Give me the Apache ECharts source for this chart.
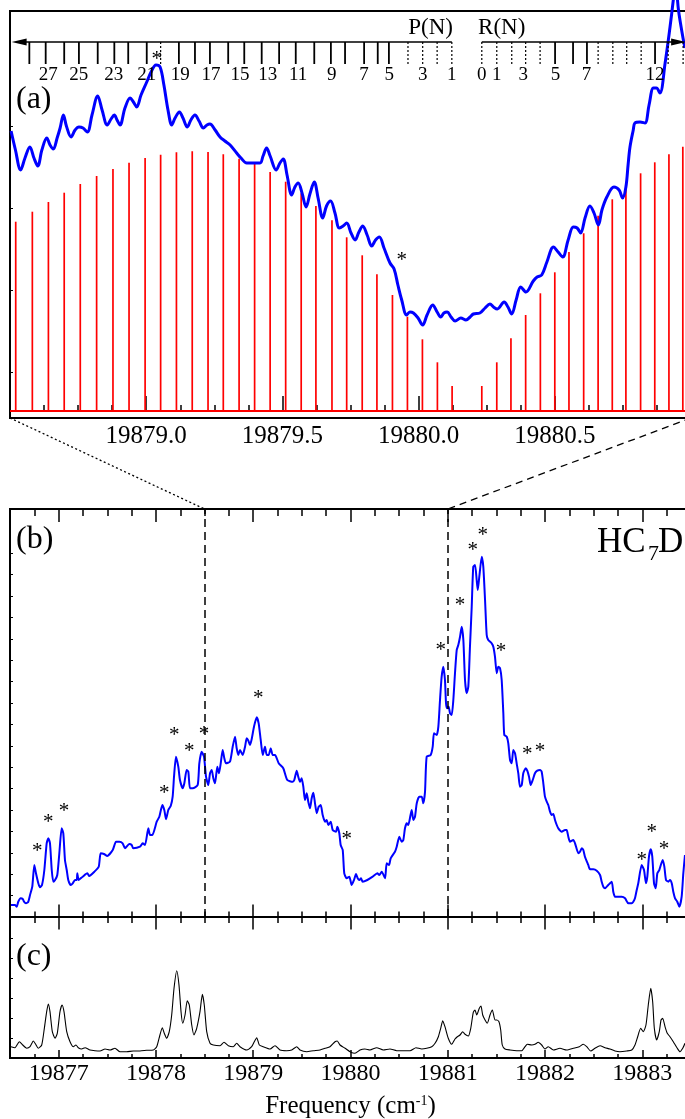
<!DOCTYPE html>
<html><head><meta charset="utf-8">
<script src="https://cdn.jsdelivr.net/npm/echarts@6/dist/echarts.min.js"></script>
<style>html,body{margin:0;padding:0;background:#fff}#c{width:685px;height:1119px}</style>
</head><body><div id="c"></div>
<script>
// ---------------- DATA ----------------
const A_X_RANGE = [19878.5, 19881.0];          // panel (a) frequency window (cm-1)
const BC_X_RANGE = [19876.5, 19883.5];         // panels (b),(c)
const ZOOM_RANGE = [19878.5, 19881.0];         // region expanded in (a)
const BC_TICKS = [19877, 19878, 19879, 19880, 19881, 19882, 19883];
const A_Y_TICKS = [0.39, 1.21, 2.03, 2.85];
const B_Y_TICKS = [1, 2, 3, 4, 5, 6, 7, 8, 9, 10, 11, 12, 13, 14, 15, 16, 17];
const C_Y_TICKS = [1, 2, 3, 4, 5, 6];

// simulated stick spectrum, (a): P branch and R branch [freq, intensity]
const stickP = [[19878.521,1.893],[19878.582,1.993],[19878.641,2.090],[19878.699,2.183],[19878.758,2.270],[19878.818,2.350],[19878.878,2.420],[19878.937,2.483],[19878.996,2.530],[19879.053,2.563],[19879.111,2.587],[19879.169,2.597],[19879.227,2.590],[19879.283,2.567],[19879.341,2.523],[19879.398,2.473],[19879.455,2.390],[19879.512,2.293],[19879.569,2.177],[19879.623,2.050],[19879.682,1.907],[19879.736,1.737],[19879.793,1.557],[19879.847,1.367],[19879.904,1.160],[19879.959,0.943],[19880.014,0.717],[19880.069,0.487],[19880.123,0.250]];
const stickR = [[19880.232,0.250],[19880.287,0.487],[19880.339,0.727],[19880.393,0.960],[19880.447,1.177],[19880.500,1.387],[19880.552,1.590],[19880.606,1.777],[19880.659,1.953],[19880.711,2.117],[19880.761,2.250],[19880.815,2.377],[19880.867,2.487],[19880.919,2.567],[19880.970,2.643]];

// observed spectrum, expanded (a)
const obsA = [[19878.504,2.80],[19878.520,2.61],[19878.539,2.41],[19878.555,2.53],[19878.573,2.64],[19878.588,2.53],[19878.602,2.45],[19878.617,2.61],[19878.635,2.73],[19878.647,2.66],[19878.659,2.62],[19878.673,2.73],[19878.684,2.83],[19878.696,2.96],[19878.707,2.85],[19878.724,2.74],[19878.739,2.81],[19878.753,2.84],[19878.768,2.83],[19878.784,2.79],[19878.801,2.96],[19878.822,3.15],[19878.838,3.01],[19878.857,2.86],[19878.871,2.92],[19878.883,2.96],[19878.893,2.91],[19878.904,2.86],[19878.922,3.03],[19878.941,3.13],[19878.953,3.09],[19878.965,3.04],[19878.981,3.16],[19879.002,3.29],[19879.018,3.39],[19879.036,3.46],[19879.051,3.44],[19879.065,3.26],[19879.080,3.01],[19879.094,2.86],[19879.106,2.93],[19879.122,2.99],[19879.135,2.93],[19879.151,2.84],[19879.164,2.91],[19879.179,2.96],[19879.194,2.90],[19879.210,2.83],[19879.223,2.86],[19879.234,2.87],[19879.253,2.81],[19879.271,2.74],[19879.289,2.70],[19879.308,2.66],[19879.332,2.58],[19879.348,2.53],[19879.369,2.48],[19879.393,2.48],[19879.418,2.48],[19879.429,2.55],[19879.442,2.63],[19879.455,2.55],[19879.477,2.41],[19879.491,2.48],[19879.503,2.52],[19879.517,2.36],[19879.534,2.16],[19879.546,2.24],[19879.558,2.28],[19879.572,2.18],[19879.587,2.04],[19879.601,2.17],[19879.617,2.29],[19879.631,2.13],[19879.648,1.93],[19879.662,2.05],[19879.677,2.10],[19879.693,1.98],[19879.709,1.83],[19879.723,1.85],[19879.736,1.88],[19879.752,1.78],[19879.767,1.71],[19879.781,1.79],[19879.795,1.85],[19879.811,1.76],[19879.828,1.65],[19879.842,1.71],[19879.856,1.74],[19879.873,1.63],[19879.895,1.48],[19879.910,1.42],[19879.924,1.26],[19879.938,1.11],[19879.956,0.96],[19879.968,0.99],[19879.981,0.98],[19879.998,0.93],[19880.015,0.86],[19880.031,0.96],[19880.052,1.06],[19880.068,0.99],[19880.081,0.94],[19880.093,0.98],[19880.105,0.99],[19880.119,0.94],[19880.134,0.90],[19880.155,0.93],[19880.174,0.91],[19880.189,0.94],[19880.201,0.97],[19880.225,0.98],[19880.244,1.03],[19880.262,1.07],[19880.275,1.04],[19880.289,1.02],[19880.314,1.09],[19880.328,1.04],[19880.342,0.97],[19880.358,1.11],[19880.375,1.24],[19880.394,1.19],[19880.421,1.30],[19880.435,1.34],[19880.452,1.36],[19880.471,1.49],[19880.495,1.64],[19880.512,1.59],[19880.529,1.54],[19880.549,1.71],[19880.568,1.84],[19880.582,1.83],[19880.595,1.78],[19880.611,1.93],[19880.629,2.05],[19880.644,1.98],[19880.660,1.86],[19880.673,2.01],[19880.691,2.14],[19880.717,2.24],[19880.736,2.21],[19880.749,2.13],[19880.761,2.24],[19880.769,2.46],[19880.776,2.64],[19880.788,2.81],[19880.794,2.88],[19880.813,2.89],[19880.831,2.88],[19880.846,3.06],[19880.862,3.23],[19880.873,3.23],[19880.886,3.18],[19880.905,3.48],[19880.923,3.84],[19880.935,4.11],[19880.943,4.31],[19880.954,4.01],[19880.972,3.71],[19880.978,3.63]];

// observed spectrum (b)
const obsB = [[19876.510,0.561],[19876.551,0.561],[19876.569,0.481],[19876.585,0.715],[19876.610,0.874],[19876.631,0.841],[19876.644,0.715],[19876.664,0.640],[19876.688,0.715],[19876.706,1.028],[19876.729,1.416],[19876.750,2.430],[19876.767,2.042],[19876.791,1.575],[19876.808,1.388],[19876.829,1.495],[19876.853,2.196],[19876.877,3.444],[19876.894,3.678],[19876.911,3.444],[19876.929,2.196],[19876.945,1.650],[19876.963,1.729],[19876.986,1.963],[19877.007,2.977],[19877.031,4.145],[19877.048,3.911],[19877.065,2.664],[19877.083,2.196],[19877.099,1.729],[19877.124,1.495],[19877.145,1.575],[19877.168,1.729],[19877.186,1.729],[19877.192,2.042],[19877.206,1.729],[19877.247,1.883],[19877.295,2.042],[19877.315,1.916],[19877.367,2.117],[19877.412,2.350],[19877.432,2.977],[19877.466,2.944],[19877.500,2.850],[19877.556,3.131],[19877.590,3.519],[19877.624,3.519],[19877.658,3.444],[19877.682,3.210],[19877.726,3.411],[19877.751,3.364],[19877.767,3.210],[19877.836,3.285],[19877.864,3.444],[19877.888,3.364],[19877.922,4.145],[19877.939,3.832],[19877.963,3.832],[19878.008,4.453],[19878.035,4.687],[19878.066,5.234],[19878.086,5.000],[19878.104,4.565],[19878.127,5.000],[19878.152,5.187],[19878.172,5.622],[19878.186,6.556],[19878.206,7.491],[19878.230,7.023],[19878.247,6.402],[19878.275,6.014],[19878.292,6.248],[19878.316,6.869],[19878.333,6.790],[19878.350,6.014],[19878.378,6.014],[19878.429,6.168],[19878.446,7.182],[19878.470,7.724],[19878.494,7.491],[19878.515,6.556],[19878.538,6.168],[19878.556,6.715],[19878.573,6.869],[19878.590,6.481],[19878.607,6.248],[19878.631,7.023],[19878.648,6.715],[19878.666,7.182],[19878.686,7.804],[19878.703,7.416],[19878.720,7.182],[19878.761,7.257],[19878.789,7.958],[19878.813,8.425],[19878.830,7.883],[19878.847,7.570],[19878.864,7.804],[19878.892,7.570],[19878.916,7.958],[19878.933,8.350],[19878.950,8.238],[19878.967,8.037],[19878.984,8.304],[19879.008,8.893],[19879.036,9.332],[19879.056,9.051],[19879.077,8.271],[19879.098,7.570],[19879.121,7.958],[19879.139,7.570],[19879.159,7.570],[19879.180,7.883],[19879.200,7.570],[19879.224,7.570],[19879.262,7.182],[19879.309,6.949],[19879.350,6.402],[19879.406,6.322],[19879.422,6.402],[19879.447,6.836],[19879.463,6.556],[19879.481,6.322],[19879.498,6.481],[19879.515,6.089],[19879.532,5.467],[19879.550,5.780],[19879.566,5.388],[19879.584,5.079],[19879.601,5.547],[19879.618,5.808],[19879.635,5.313],[19879.653,4.846],[19879.673,5.154],[19879.694,5.234],[19879.714,4.766],[19879.738,4.453],[19879.755,4.533],[19879.772,4.299],[19879.797,4.453],[19879.817,4.065],[19879.851,3.986],[19879.864,4.220],[19879.885,3.911],[19879.899,3.364],[19879.920,3.131],[19879.936,2.042],[19879.961,1.808],[19879.988,1.883],[19880.012,1.495],[19880.036,1.729],[19880.057,2.009],[19880.074,1.808],[19880.091,1.729],[19880.108,1.808],[19880.125,1.650],[19880.173,1.729],[19880.228,1.883],[19880.276,2.042],[19880.296,1.963],[19880.321,2.117],[19880.355,1.808],[19880.372,2.509],[19880.396,2.430],[19880.413,2.743],[19880.457,3.051],[19880.475,3.285],[19880.502,3.752],[19880.526,3.519],[19880.543,3.598],[19880.560,4.145],[19880.578,4.379],[19880.594,4.299],[19880.629,5.000],[19880.646,4.533],[19880.663,4.687],[19880.681,5.313],[19880.707,5.622],[19880.732,5.622],[19880.748,5.313],[19880.766,5.855],[19880.783,7.491],[19880.824,7.570],[19880.845,7.958],[19880.858,8.584],[19880.886,8.505],[19880.903,8.893],[19880.920,10.140],[19880.937,11.229],[19880.954,11.696],[19880.971,11.075],[19880.982,9.986],[19880.995,9.752],[19881.009,9.827],[19881.023,9.519],[19881.040,9.439],[19881.057,10.140],[19881.074,11.388],[19881.092,12.477],[19881.108,12.710],[19881.126,13.098],[19881.143,13.566],[19881.160,12.944],[19881.177,11.075],[19881.194,10.453],[19881.211,10.762],[19881.228,12.631],[19881.246,14.500],[19881.262,16.369],[19881.280,16.449],[19881.297,15.748],[19881.308,15.280],[19881.324,15.902],[19881.349,16.836],[19881.365,16.369],[19881.383,14.813],[19881.400,13.178],[19881.416,12.944],[19881.451,12.790],[19881.468,12.631],[19881.485,12.164],[19881.503,11.388],[19881.519,11.696],[19881.537,11.622],[19881.554,11.075],[19881.571,9.519],[19881.581,8.505],[19881.606,8.425],[19881.622,8.117],[19881.640,7.336],[19881.657,7.182],[19881.673,7.804],[19881.691,7.650],[19881.708,7.182],[19881.725,6.715],[19881.742,6.089],[19881.760,6.168],[19881.776,6.715],[19881.801,6.949],[19881.817,6.836],[19881.835,6.556],[19881.852,6.168],[19881.873,6.402],[19881.896,6.715],[19881.920,6.836],[19881.948,6.869],[19881.965,6.790],[19881.982,6.248],[19881.999,5.622],[19882.017,5.388],[19882.033,5.234],[19882.051,4.921],[19882.068,4.766],[19882.085,4.813],[19882.102,4.533],[19882.120,4.299],[19882.136,4.145],[19882.171,3.986],[19882.205,4.065],[19882.222,4.065],[19882.239,3.752],[19882.256,3.519],[19882.290,3.598],[19882.308,3.444],[19882.342,2.977],[19882.359,3.051],[19882.377,3.210],[19882.393,3.131],[19882.410,2.818],[19882.444,2.430],[19882.462,2.229],[19882.496,2.229],[19882.531,2.164],[19882.565,1.963],[19882.582,1.650],[19882.599,1.416],[19882.616,1.341],[19882.650,1.495],[19882.685,1.650],[19882.701,1.182],[19882.719,0.949],[19882.753,0.949],[19882.788,0.949],[19882.822,0.874],[19882.856,0.640],[19882.891,0.640],[19882.907,0.715],[19882.924,0.874],[19882.942,1.262],[19882.958,1.575],[19882.993,2.430],[19883.017,2.196],[19883.037,1.575],[19883.051,1.883],[19883.068,2.818],[19883.086,3.164],[19883.102,2.818],[19883.120,1.575],[19883.137,1.341],[19883.154,2.042],[19883.174,2.196],[19883.209,2.664],[19883.226,2.350],[19883.243,1.729],[19883.267,1.650],[19883.284,1.729],[19883.302,1.575],[19883.318,1.182],[19883.336,0.874],[19883.359,0.715],[19883.380,0.481],[19883.404,0.949],[19883.421,2.042],[19883.438,2.897]];

// reference spectrum (c)
const refC = [[19876.510,0.565],[19876.551,0.515],[19876.596,0.815],[19876.631,0.650],[19876.672,0.485],[19876.706,0.565],[19876.740,0.850],[19876.764,0.685],[19876.791,0.485],[19876.826,0.650],[19876.853,1.485],[19876.877,2.315],[19876.894,2.700],[19876.911,2.315],[19876.935,1.315],[19876.963,0.985],[19876.986,1.235],[19877.014,2.315],[19877.035,2.650],[19877.055,2.315],[19877.083,1.315],[19877.117,0.815],[19877.151,0.565],[19877.178,0.650],[19877.202,0.515],[19877.237,0.450],[19877.271,0.515],[19877.322,0.400],[19877.374,0.365],[19877.425,0.350],[19877.477,0.450],[19877.528,0.400],[19877.579,0.485],[19877.631,0.315],[19877.700,0.315],[19877.767,0.350],[19877.836,0.350],[19877.905,0.385],[19877.973,0.400],[19878.008,0.565],[19878.032,0.985],[19878.066,1.515],[19878.086,1.235],[19878.111,0.985],[19878.137,1.315],[19878.162,2.150],[19878.186,3.485],[19878.214,4.365],[19878.237,3.650],[19878.258,2.315],[19878.275,1.735],[19878.299,2.150],[19878.322,2.865],[19878.343,2.650],[19878.368,1.650],[19878.391,1.150],[19878.419,1.485],[19878.453,2.315],[19878.477,3.185],[19878.497,2.650],[19878.522,1.315],[19878.556,0.735],[19878.590,0.650],[19878.659,0.615],[19878.700,0.785],[19878.744,0.615],[19878.795,0.565],[19878.830,0.735],[19878.864,0.565],[19878.933,0.400],[19878.984,0.565],[19879.011,0.815],[19879.036,1.015],[19879.063,0.650],[19879.104,0.565],[19879.173,0.450],[19879.224,0.615],[19879.275,0.400],[19879.344,0.365],[19879.396,0.400],[19879.447,0.565],[19879.481,0.400],[19879.550,0.315],[19879.618,0.365],[19879.687,0.400],[19879.738,0.485],[19879.789,0.565],[19879.841,0.815],[19879.864,0.850],[19879.892,0.650],[19879.944,0.485],[19879.995,0.315],[19880.046,0.235],[19880.098,0.400],[19880.149,0.450],[19880.200,0.400],[19880.269,0.515],[19880.337,0.400],[19880.406,0.450],[19880.475,0.365],[19880.543,0.365],[19880.612,0.365],[19880.673,0.515],[19880.732,0.450],[19880.783,0.485],[19880.835,0.565],[19880.869,0.735],[19880.903,1.065],[19880.927,1.485],[19880.948,1.865],[19880.971,1.565],[19881.005,0.985],[19881.040,0.685],[19881.074,0.950],[19881.098,1.065],[19881.126,1.150],[19881.153,1.315],[19881.177,1.185],[19881.211,1.100],[19881.236,1.485],[19881.262,2.285],[19881.280,2.400],[19881.297,2.150],[19881.324,2.485],[19881.341,2.600],[19881.359,2.150],[19881.383,1.900],[19881.406,1.735],[19881.434,2.150],[19881.458,2.400],[19881.485,1.900],[19881.503,1.900],[19881.526,1.815],[19881.544,1.400],[19881.560,0.650],[19881.588,0.450],[19881.640,0.400],[19881.708,0.365],[19881.760,0.365],[19881.794,0.565],[19881.817,0.685],[19881.863,0.650],[19881.896,0.685],[19881.930,0.785],[19881.965,0.650],[19881.999,0.450],[19882.033,0.565],[19882.085,0.400],[19882.153,0.485],[19882.222,0.400],[19882.290,0.485],[19882.352,0.565],[19882.393,0.685],[19882.428,0.565],[19882.469,0.350],[19882.513,0.485],[19882.565,0.615],[19882.616,0.515],[19882.667,0.450],[19882.719,0.350],[19882.770,0.315],[19882.839,0.350],[19882.891,0.400],[19882.924,0.650],[19882.952,1.065],[19882.983,1.485],[19883.010,1.315],[19883.037,1.650],[19883.061,2.650],[19883.086,3.485],[19883.106,2.815],[19883.123,1.485],[19883.147,0.900],[19883.174,1.315],[19883.192,1.900],[19883.209,1.985],[19883.233,1.565],[19883.256,1.235],[19883.284,1.065],[19883.318,0.815],[19883.359,0.485],[19883.387,0.315],[19883.415,0.485],[19883.438,0.735]];

// asterisk-marked (perturbed) lines
const asteriskA = [[19879.039,3.543],[19879.938,1.527]];
const asteriskB = [[19876.781,3.164],[19876.894,4.533],[19877.055,5.033],[19878.086,5.902],[19878.189,8.584],[19878.343,7.836],[19878.494,8.659],[19879.052,10.327],[19879.961,3.752],[19880.927,12.584],[19881.126,14.687],[19881.256,17.257],[19881.359,17.930],[19881.547,12.509],[19881.817,7.724],[19881.948,7.836],[19882.993,2.771],[19883.096,4.065],[19883.223,3.285]];

// rotational assignment ladder (a): tick freqs, dotted flag (1 = tentative)
const ladderP = [19878.571,19878.631,19878.699,19878.753,19878.822,19878.883,19878.934,19879.002,19879.053,19879.120,19879.179,19879.234,19879.301,19879.360,19879.424,19879.488,19879.549,19879.617,19879.678,19879.730,19879.800,19879.850,19879.891,19879.961,19880.015,19880.068,19880.122];
const ladderPDotted = [0,0,0,0,0,0,0,0,1,0,0,0,0,0,0,0,0,0,0,0,0,0,0,1,1,1,1];
const ladderR = [19880.232,19880.287,19880.342,19880.393,19880.446,19880.501,19880.567,19880.618,19880.659,19880.713,19880.764,19880.817,19880.868,19880.916,19880.971];
const ladderRDotted = [1,1,1,1,1,0,0,0,1,1,1,1,0,1,1];
const ladderPLabels = ['27','25','23','21','19','17','15','13','11','9','7','5','3','1'];
const ladderPLabelFreq = [19878.640,19878.752,19878.881,19879.002,19879.125,19879.238,19879.344,19879.446,19879.558,19879.681,19879.800,19879.892,19880.015,19880.122];
const ladderRLabels = ['0','1','3','5','7','12'];
const ladderRLabelFreq = [19880.232,19880.287,19880.384,19880.503,19880.616,19880.868];
const ladderArms = [[19880.122,19878.506],[19880.232,19880.982]]; // [start, arrow tip]
const branchNames = ['P(N)','R(N)'];
const branchNameFreq = [19880.044,19880.305];

// ---------------- LAYOUT / STYLE ----------------
const FONT = "'Liberation Serif','Times New Roman',serif";
const A_Y = [-0.07, 4.0], B_Y = [0, 19.065], C_Y = [0, 7.05];
const LADDER_Y = 3.69, LADDER_TICK_END = 3.47, LADDER_LABEL_Y = 3.358, BRANCH_Y = 3.835;

const chart = echarts.init(document.getElementById('c'), null, {renderer: 'canvas'});

const gridBase = {left: 10, right: -6, show: true, borderColor: '#000', borderWidth: 2,
  backgroundColor: 'transparent', containLabel: false, outerBoundsMode: 'none'};
const tickLS = {color: '#000', width: 1.5};

function xAxis(grid, pos, range, tick, extra) {
  return Object.assign({
    type: 'value', gridIndex: grid, position: pos, min: range[0], max: range[1],
    axisLine: {show: false}, splitLine: {show: false}, axisLabel: {show: false},
    axisTick: Object.assign({show: true, inside: true, lineStyle: tickLS}, tick)
  }, extra || {});
}
function yAxis(grid, range, ticks) {
  return {type: 'value', gridIndex: grid, min: range[0], max: range[1],
    axisLine: {show: false}, splitLine: {show: false}, axisLabel: {show: false},
    axisTick: {show: true, inside: true, length: 3, customValues: ticks, lineStyle: {color: '#000', width: 1}}};
}
const isInt = v => Math.abs(v - Math.round(v)) < 1e-6;

const xAxes = [
  // 0: (a) bottom
  xAxis(0, 'bottom', A_X_RANGE, {length: 15}, {
    interval: 0.5,
    minorTick: {show: true, splitNumber: 4, length: 6, lineStyle: tickLS},
    axisLabel: {show: true, fontFamily: FONT, fontSize: 25, color: '#000', margin: 6,
      showMinLabel: false, showMaxLabel: false, formatter: v => v.toFixed(1)}
  }),
  // 1-4: (b)
  xAxis(1, 'bottom', BC_X_RANGE, {length: 5.5}, {interval: 0.25}),
  xAxis(1, 'bottom', BC_X_RANGE, {length: 12.5, customValues: BC_TICKS}),
  xAxis(1, 'top', BC_X_RANGE, {length: 7}, {interval: 0.25}),
  xAxis(1, 'top', BC_X_RANGE, {length: 13, customValues: BC_TICKS}),
  // 5-8: (c)
  xAxis(2, 'bottom', BC_X_RANGE, {length: 4}, {
    interval: 0.25,
    axisLabel: {show: true, customValues: BC_TICKS, fontFamily: FONT, fontSize: 24, color: '#000', margin: 4,
      formatter: v => isInt(v) ? String(Math.round(v)) : ''},
    name: '{a|Frequency (cm}{b|-1}{a|)}', nameLocation: 'middle', nameGap: 36,
    nameTextStyle: {rich: {
      a: {fontFamily: FONT, fontSize: 25, color: '#000', verticalAlign: 'bottom'},
      b: {fontFamily: FONT, fontSize: 14, color: '#000', verticalAlign: 'top'}}}
  }),
  xAxis(2, 'bottom', BC_X_RANGE, {length: 8, customValues: BC_TICKS}),
  xAxis(2, 'top', BC_X_RANGE, {length: 6}, {interval: 0.25}),
  xAxis(2, 'top', BC_X_RANGE, {length: 12.5, customValues: BC_TICKS})
];

function textItem(x, y, text, size) {
  return {type: 'text', x: x, y: y, style: {text: text, fill: '#000', font: size + 'px ' + FONT,
    align: 'center', verticalAlign: 'middle'}};
}

const option = {
  animation: false,
  backgroundColor: '#fff',
  grid: [
    Object.assign({}, gridBase, {top: 11, height: 407}),
    Object.assign({}, gridBase, {top: 509, height: 408}),
    Object.assign({}, gridBase, {top: 917, height: 141})
  ],
  xAxis: xAxes,
  yAxis: [yAxis(0, A_Y, A_Y_TICKS), yAxis(1, B_Y, B_Y_TICKS), yAxis(2, C_Y, C_Y_TICKS)],
  series: [
    { // red stick spectrum
      type: 'custom', xAxisIndex: 0, yAxisIndex: 0, z: 2,
      data: stickP.concat(stickR),
      renderItem: (params, api) => {
        const p0 = api.coord([api.value(0), 0]);
        const p1 = api.coord([api.value(0), api.value(1)]);
        return {type: 'line', shape: {x1: p0[0], y1: p0[1], x2: p1[0], y2: p1[1]},
          style: {stroke: '#ff0000', lineWidth: 1.7}};
      }
    },
    { // observed (a)
      type: 'line', xAxisIndex: 0, yAxisIndex: 0, z: 3, data: obsA, showSymbol: false,
      smooth: 0.35, clip: false, lineStyle: {color: '#0000ff', width: 3},
      markLine: {silent: true, symbol: ['none', 'none'], label: {show: false},
        lineStyle: {color: '#ff0000', width: 2, type: 'solid'}, data: [{yAxis: 0}]}
    },
    { // ladder backbones with arrow heads
      type: 'custom', xAxisIndex: 0, yAxisIndex: 0, z: 4, clip: false,
      data: ladderArms,
      renderItem: (params, api) => {
        const a = api.coord([api.value(0), LADDER_Y]);
        const t = api.coord([api.value(1), LADDER_Y]);
        const d = Math.sign(t[0] - a[0]);
        return {type: 'group', children: [
          {type: 'line', shape: {x1: a[0], y1: a[1], x2: t[0] - d * 10, y2: t[1]},
            style: {stroke: '#000', lineWidth: 1.5}},
          {type: 'polygon', shape: {points: [[t[0], t[1]], [t[0] - d * 15, t[1] - 3.5], [t[0] - d * 15, t[1] + 3.5]]},
            style: {fill: '#000'}}
        ]};
      }
    },
    { // ladder ticks
      type: 'custom', xAxisIndex: 0, yAxisIndex: 0, z: 4,
      data: ladderP.map((f, i) => [f, ladderPDotted[i]]).concat(ladderR.map((f, i) => [f, ladderRDotted[i]])),
      renderItem: (params, api) => {
        const p0 = api.coord([api.value(0), LADDER_Y]);
        const p1 = api.coord([api.value(0), LADDER_TICK_END]);
        const dotted = api.value(1) === 1;
        return {type: 'line', shape: {x1: p0[0], y1: p0[1], x2: p1[0], y2: p1[1]},
          style: {stroke: '#000', lineWidth: dotted ? 1.2 : 1.8, lineDash: dotted ? [2, 2] : null}};
      }
    },
    { // ladder numbers
      type: 'custom', xAxisIndex: 0, yAxisIndex: 0, z: 4,
      data: ladderPLabelFreq.concat(ladderRLabelFreq).map(f => [f, LADDER_LABEL_Y]),
      renderItem: (params, api) => {
        const p = api.coord([api.value(0), api.value(1)]);
        const txt = ladderPLabels.concat(ladderRLabels)[params.dataIndex];
        return textItem(p[0], p[1], txt, 19);
      }
    },
    { // branch names
      type: 'custom', xAxisIndex: 0, yAxisIndex: 0, z: 4,
      data: branchNameFreq.map(f => [f, BRANCH_Y]),
      renderItem: (params, api) => {
        const p = api.coord([api.value(0), api.value(1)]);
        return textItem(p[0], p[1], branchNames[params.dataIndex], 23);
      }
    },
    { // asterisks (a)
      type: 'custom', xAxisIndex: 0, yAxisIndex: 0, z: 5, data: asteriskA,
      renderItem: (params, api) => {
        const p = api.coord([api.value(0), api.value(1)]);
        return textItem(p[0], p[1] + 2.5, '*', 21);
      }
    },
    { // observed (b)
      type: 'line', xAxisIndex: 1, yAxisIndex: 1, z: 3, data: obsB, showSymbol: false,
      smooth: 0.2, lineStyle: {color: '#0000ff', width: 2},
      markLine: {silent: true, symbol: ['none', 'none'], label: {show: false},
        lineStyle: {color: '#000', width: 1.5, type: [8, 5]},
        data: ZOOM_RANGE.map(v => ({xAxis: v}))}
    },
    { // asterisks (b)
      type: 'custom', xAxisIndex: 1, yAxisIndex: 1, z: 5, data: asteriskB,
      renderItem: (params, api) => {
        const p = api.coord([api.value(0), api.value(1)]);
        return textItem(p[0], p[1] + 2.5, '*', 21);
      }
    },
    { // reference (c)
      type: 'line', xAxisIndex: 5, yAxisIndex: 2, z: 3, data: refC, showSymbol: false,
      smooth: 0.2, lineStyle: {color: '#000', width: 1.1}
    }
  ],
  graphic: [
    {type: 'text', x: 16, y: 100, style: {text: '(a)', fill: '#000', font: '32px ' + FONT, verticalAlign: 'middle'}},
    {type: 'text', x: 16, y: 540, style: {text: '(b)', fill: '#000', font: '32px ' + FONT, verticalAlign: 'middle'}},
    {type: 'text', x: 16, y: 957, style: {text: '(c)', fill: '#000', font: '32px ' + FONT, verticalAlign: 'middle'}},
    {type: 'text', x: 597, y: 543, style: {text: 'HC', fill: '#000', font: '35px ' + FONT, verticalAlign: 'middle'}},
    {type: 'text', x: 648, y: 554, style: {text: '7', fill: '#000', font: '22px ' + FONT, verticalAlign: 'middle'}},
    {type: 'text', x: 658, y: 543, style: {text: 'D', fill: '#000', font: '35px ' + FONT, verticalAlign: 'middle'}}
  ]
};
chart.setOption(option);

// connector lines from the (a) window edges to the same frequencies in (b)
const conn = ZOOM_RANGE.map((f, i) => {
  const pa = chart.convertToPixel({xAxisIndex: 0, yAxisIndex: 0}, [f, A_Y[0]]);
  const pb = chart.convertToPixel({xAxisIndex: 1, yAxisIndex: 1}, [f, B_Y[1]]);
  return {type: 'line', shape: {x1: pa[0], y1: pa[1], x2: pb[0], y2: pb[1]},
    style: {stroke: '#000', lineWidth: 1.3, lineDash: i === 0 ? [2, 2.5] : [7, 5]}};
});
chart.setOption({graphic: option.graphic.concat(conn)});
</script></body></html>
